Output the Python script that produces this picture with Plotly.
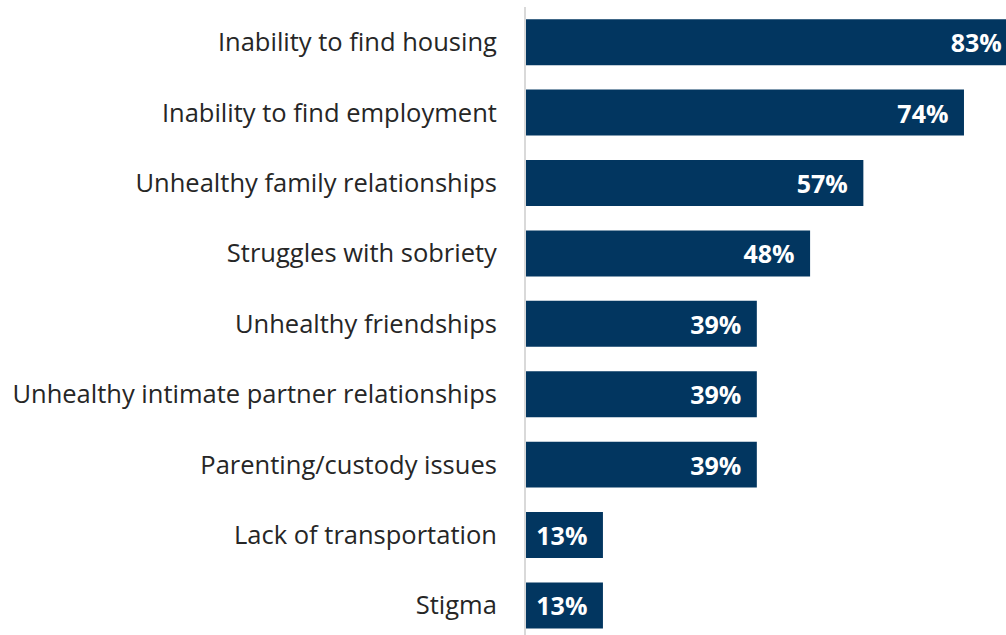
import plotly.graph_objects as go

categories = [
    "Inability to find housing",
    "Inability to find employment",
    "Unhealthy family relationships",
    "Struggles with sobriety",
    "Unhealthy friendships",
    "Unhealthy intimate partner relationships",
    "Parenting/custody issues",
    "Lack of transportation",
    "Stigma",
]
values = [83, 74, 57, 48, 39, 39, 39, 13, 13]
labels = [f"{v}%\u2002" for v in values]

fig = go.Figure(
    go.Bar(
        y=categories,
        x=values,
        orientation="h",
        marker=dict(color="#023660", line=dict(width=0)),
        text=labels,
        textposition="inside",
        insidetextanchor="end",
        textfont=dict(family="Open Sans", size=25, color="white", weight="bold"),
        cliponaxis=True,
        hoverinfo="skip",
    )
)

fig.update_layout(
    width=1006,
    height=635,
    margin=dict(l=526, r=0, t=7, b=0),
    paper_bgcolor="white",
    plot_bgcolor="white",
    bargap=0.347,
    showlegend=False,
    font=dict(family="Open Sans", size=25.5, color="#262626"),
)
fig.update_xaxes(range=[0, 81.1], visible=False, showgrid=False, zeroline=False)
fig.update_yaxes(
    type="category",
    categoryorder="array",
    categoryarray=categories,
    range=[8.42, -0.5],
    showline=True,
    linecolor="#d9d9d9",
    linewidth=2,
    showgrid=False,
    zeroline=False,
    ticks="",
    ticklabelstandoff=22,
    tickfont=dict(family="Open Sans", size=25.5, color="#262626"),
)

fig.write_html("out.html")
